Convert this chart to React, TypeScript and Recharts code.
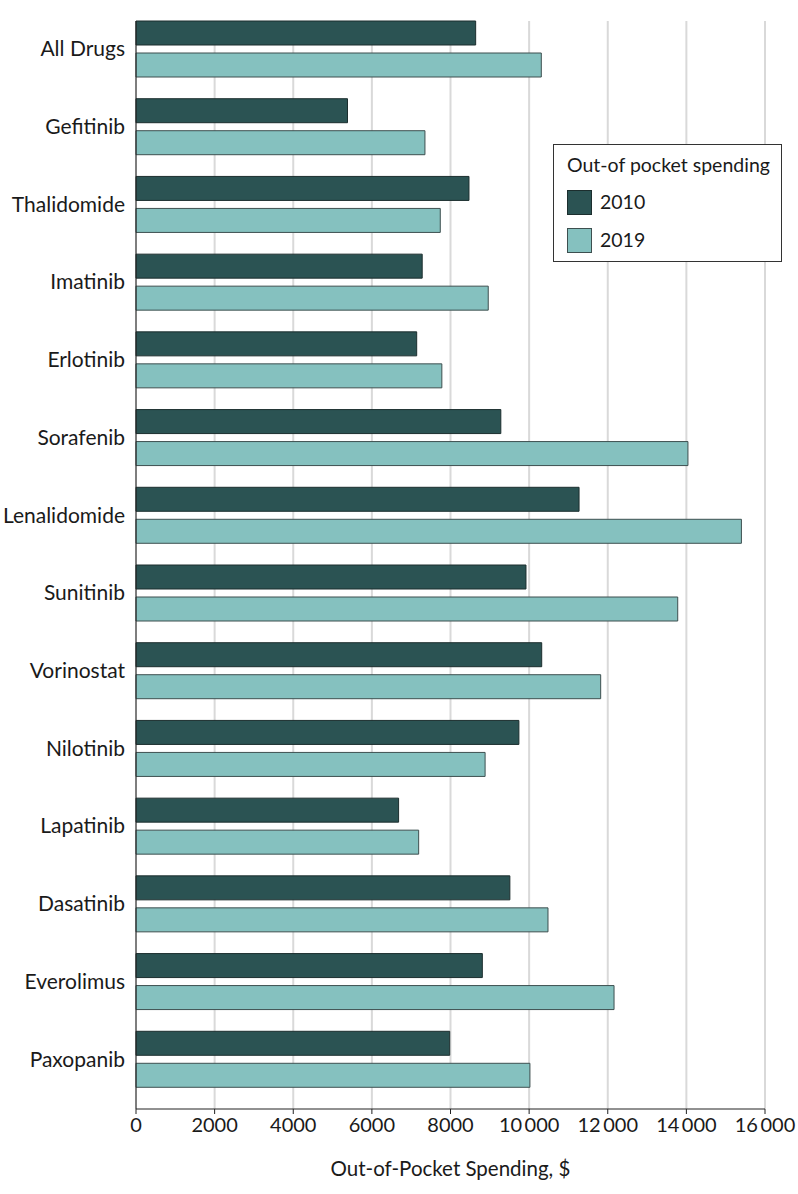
import { BarChart, Bar, XAxis, YAxis, CartesianGrid } from 'recharts';

const DRUGS = [
  'All Drugs',
  'Gefitinib',
  'Thalidomide',
  'Imatinib',
  'Erlotinib',
  'Sorafenib',
  'Lenalidomide',
  'Sunitinib',
  'Vorinostat',
  'Nilotinib',
  'Lapatinib',
  'Dasatinib',
  'Everolimus',
  'Paxopanib',
];

const SPEND_2010 = [8640, 5380, 8470, 7280, 7140, 9280, 11270, 9920, 10320, 9740, 6680, 9510, 8810, 7980];
const SPEND_2019 = [10310, 7350, 7740, 8960, 7780, 14040, 15400, 13780, 11820, 8880, 7190, 10480, 12160, 10020];

const X_TICKS = [0, 2000, 4000, 6000, 8000, 10000, 12000, 14000, 16000];

const DARK = '#2b5353';
const LIGHT = '#85c1bf';
const FONT = 'Lato, "Noto Sans", sans-serif';

const data = DRUGS.map((name, i) => ({ name, y2010: SPEND_2010[i], y2019: SPEND_2019[i] }));

// thousands separated by a thin space, like the source
function fmtTick(v: number): string {
  return v >= 10000 ? `${Math.floor(v / 1000)}\u2009${String(v % 1000).padStart(3, '0')}` : String(v);
}

function LegendBox() {
  return (
    <div
      style={{
        position: 'absolute',
        left: 553,
        top: 144,
        width: 229,
        height: 118,
        border: '1px solid #333',
        background: '#fff',
        fontFamily: FONT,
        fontSize: 19.5,
        color: '#1a1a1a',
        boxSizing: 'border-box',
        padding: '8px 0 0 13px',
        lineHeight: '24px',
      }}
    >
      <div style={{ marginBottom: 6 }}>Out-of pocket spending</div>
      {[
        { label: '2010', color: DARK, stroke: '#1c2e2e' },
        { label: '2019', color: LIGHT, stroke: '#3d4f4f' },
      ].map((it) => (
        <div key={it.label} style={{ display: 'flex', alignItems: 'center', height: 38 }}>
          <span
            style={{
              width: 25,
              height: 25,
              background: it.color,
              border: `1px solid ${it.stroke}`,
              boxSizing: 'border-box',
              marginRight: 8,
            }}
          />
          <span>{it.label}</span>
        </div>
      ))}
    </div>
  );
}

export default function App() {
  return (
    <div style={{ position: 'absolute', left: 0, top: 0, width: 798, height: 1194, background: '#fff' }}>
      <BarChart
        width={798}
        height={1194}
        data={data}
        layout="vertical"
        margin={{ top: 21, right: 33, left: 0, bottom: 0 }}
        barSize={24}
        barGap={8}
      >
        <CartesianGrid horizontal={false} stroke="#d9d9d9" strokeWidth={2} />
        <XAxis
          type="number"
          domain={[0, 16000]}
          ticks={X_TICKS}
          interval={0}
          tickFormatter={fmtTick}
          height={85}
          tickSize={5}
          tickMargin={4}
          stroke="#222"
          tick={{ fill: '#1a1a1a', fontSize: 20, fontFamily: FONT }}
          label={{
            value: 'Out-of-Pocket Spending, $',
            position: 'insideBottom',
            offset: 18,
            fill: '#1a1a1a',
            fontSize: 20.5,
            fontFamily: FONT,
          }}
        />
        <YAxis
          type="category"
          dataKey="name"
          width={136}
          padding={{ top: -11, bottom: 11 }}
          tickLine={false}
          tickMargin={5}
          stroke="#222"
          tick={{ fill: '#1a1a1a', fontSize: 21, fontFamily: FONT }}
        />
        <Bar dataKey="y2010" name="2010" fill={DARK} stroke="#1c2e2e" strokeWidth={1} isAnimationActive={false} />
        <Bar dataKey="y2019" name="2019" fill={LIGHT} stroke="#3d4f4f" strokeWidth={1} isAnimationActive={false} />
      </BarChart>
      <LegendBox />
    </div>
  );
}
